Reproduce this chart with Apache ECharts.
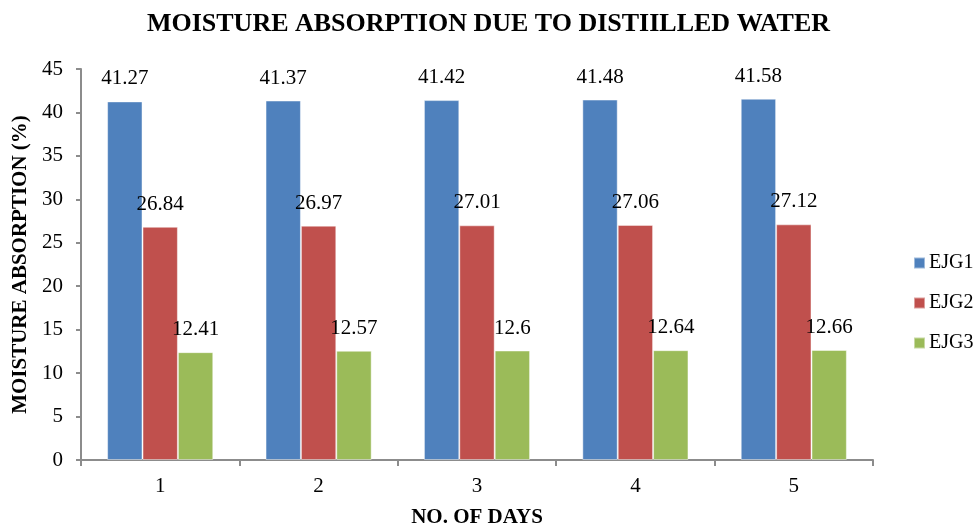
<!DOCTYPE html>
<html>
<head>
<meta charset="utf-8">
<script src="https://cdn.jsdelivr.net/npm/echarts@6/dist/echarts.min.js"></script>
<style>
  html, body { margin: 0; padding: 0; background: #fff; }
  #chart { width: 977px; height: 529px; }
</style>
</head>
<body>
<div id="chart"></div>
<script>
// Moisture absorption (%) per day for three specimens
const days = ['1', '2', '3', '4', '5'];
const ejg1 = [41.27, 41.37, 41.42, 41.48, 41.58];
const ejg2 = [26.84, 26.97, 27.01, 27.06, 27.12];
const ejg3 = [12.41, 12.57, 12.6, 12.64, 12.66];
const seriesNames = ['EJG1', 'EJG2', 'EJG3'];
const seriesColors = ['#4F81BD', '#C0504D', '#9BBB59'];

const FONT = '"Liberation Serif", "Times New Roman", serif';
const axisGrey = '#8c8c8c';

const chart = echarts.init(document.getElementById('chart'), null, { renderer: 'canvas' });

function barSeries(name, data, color) {
  return {
    name: name,
    type: 'bar',
    data: data,
    barGap: '0%',
    barCategoryGap: '33%',
    itemStyle: { color: color, borderColor: 'rgba(255,255,255,0.45)', borderWidth: 1 },
    label: {
      show: true,
      position: 'top',
      distance: 12,
      color: '#000',
      fontFamily: FONT,
      fontSize: 21
    }
  };
}

chart.setOption({
  animation: false,
  backgroundColor: '#fff',
  title: {
    text: 'MOISTURE ABSORPTION DUE TO DISTIILLED WATER',
    left: 'center',
    top: 6,
    textStyle: { fontFamily: FONT, fontWeight: 'bold', fontSize: 26, color: '#000' }
  },
  legend: {
    orient: 'vertical',
    left: 913,
    top: 253,
    padding: 0,
    itemWidth: 11,
    itemHeight: 11,
    itemGap: 20,
    icon: 'rect',
    data: seriesNames,
    textStyle: { fontFamily: FONT, fontSize: 20, lineHeight: 20, color: '#000', padding: [0, 0, 0, -1] }
  },
  grid: {
    left: 81, right: 104, top: 69, bottom: 69,
    containLabel: false,
    outerBoundsMode: 'none'
  },
  xAxis: {
    type: 'category',
    data: days,
    name: 'NO. OF DAYS',
    nameLocation: 'middle',
    nameGap: 47,
    nameTextStyle: { fontFamily: FONT, fontWeight: 'bold', fontSize: 21, color: '#000' },
    axisLine: { lineStyle: { color: axisGrey, width: 2 } },
    axisTick: { show: true, length: 6, lineStyle: { color: axisGrey, width: 2 } },
    axisLabel: { fontFamily: FONT, fontSize: 21, color: '#000', margin: 16 }
  },
  yAxis: {
    type: 'value',
    min: 0,
    max: 45,
    interval: 5,
    name: 'MOISTURE ABSORPTION (%)',
    nameLocation: 'middle',
    nameGap: 41,
    nameRotate: 90,
    nameTextStyle: { fontFamily: FONT, fontWeight: 'bold', fontSize: 21, color: '#000' },
    axisLine: { show: true, lineStyle: { color: axisGrey, width: 2 } },
    axisTick: { show: true, length: 5, lineStyle: { color: axisGrey, width: 2 } },
    splitLine: { show: false },
    axisLabel: { fontFamily: FONT, fontSize: 21, color: '#000', margin: 18 }
  },
  series: [
    barSeries(seriesNames[0], ejg1, seriesColors[0]),
    barSeries(seriesNames[1], ejg2, seriesColors[1]),
    barSeries(seriesNames[2], ejg3, seriesColors[2])
  ]
});
</script>
</body>
</html>
